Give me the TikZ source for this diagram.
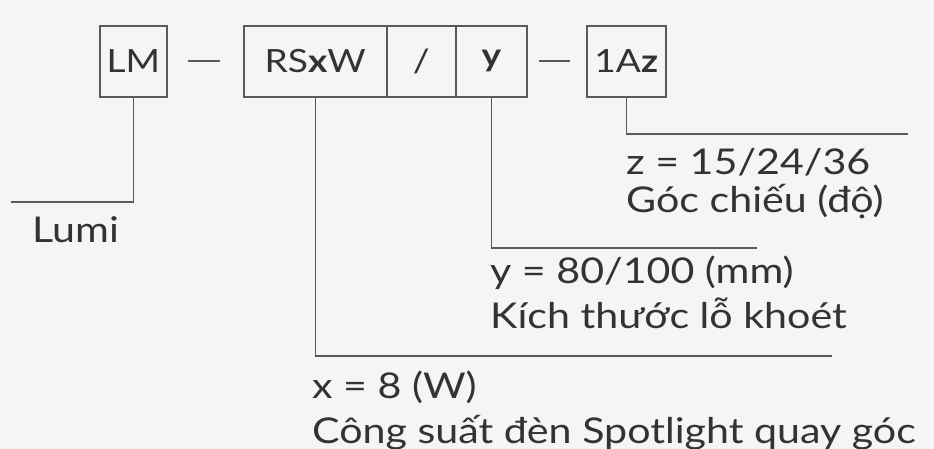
\documentclass[tikz,border=0pt]{standalone}
\usepackage{fontspec}
\setmainfont{Lato}[FakeStretch=1.16]
\definecolor{bg}{HTML}{F5F5F5}
\definecolor{ln}{HTML}{5A5A5A}
\definecolor{tx}{HTML}{333333}
\begin{document}
\begin{tikzpicture}[x=1pt,y=-1pt,
  cell/.style={draw=ln,line width=1.6pt,minimum height=71pt,inner sep=0pt,text=tx,font=\fontsize{32}{32}\selectfont,anchor=north west},
  lbl/.style={text=tx,inner sep=0pt,anchor=base west,font=\fontsize{35.5}{35.5}\selectfont},
  wire/.style={draw=ln,line width=1.6pt}]
\fill[bg] (0,0) rectangle (934,449);
\useasboundingbox (0,0) rectangle (934,449);
\node[cell,minimum width=67pt] (lm) at (99,25) {LM};
\node[cell,minimum width=143pt] (rs) at (243,25) {RS\textbf{x}W};
\node[cell,minimum width=69pt] (sl) at (386,25) {/};
\node[cell,minimum width=71pt] (yy) at (455,25) {\textbf{y}};
\node[cell,minimum width=79pt] (az) at (586,25) {1A\textbf{z}};
\coordinate (d1a) at (188,61); \coordinate (d1b) at (220,61);
\coordinate (d2a) at (539,61); \coordinate (d2b) at (570,61);
\draw[wire] (d1a) -- (d1b);
\draw[wire] (d2a) -- (d2b);
\coordinate (clm) at (11,202);
\coordinate (crs) at (832,356);
\coordinate (cyy) at (757,248);
\coordinate (caz) at (908,134);
\draw[wire] (lm.south) |- (clm);
\draw[wire] (rs.south) |- (crs);
\draw[wire] (yy.south) |- (cyy);
\draw[wire] (az.south) |- (caz);
\node[lbl] (t1) at (32,242) {Lumi};
\node[lbl] (t2) at (626,175) {z = 15/24/36};
\node[lbl] (t3) at (626,213) {Góc chiếu (độ)};
\node[lbl] (t4) at (490,283) {y = 80/100 (mm)};
\node[lbl] (t5) at (490,328) {Kích thước lỗ khoét};
\node[lbl] (t6) at (312,398) {x = 8 (W)};
\node[lbl] (t7) at (312,443) {Công suất đèn Spotlight quay góc};
\end{tikzpicture}
\end{document}
